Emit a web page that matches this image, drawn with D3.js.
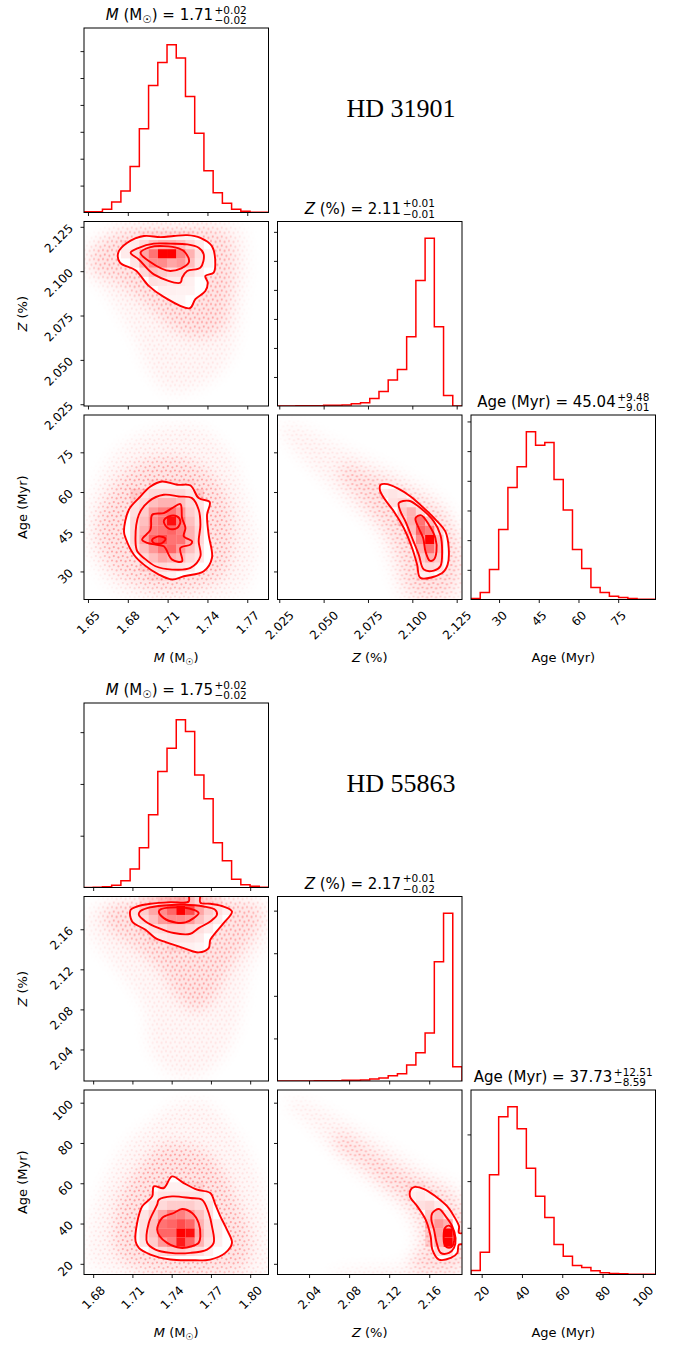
<!DOCTYPE html>
<html>
<head>
<meta charset="utf-8">
<script src="https://cdn.jsdelivr.net/npm/d3@7"></script>
<style>
  body { margin: 0; background: #fff; }
  text { font-family: "DejaVu Sans", sans-serif; fill: #000; }
</style>
</head>
<body>
<svg id="fig" width="673" height="1347"></svg>
<script>
// ================= HD 31901 =================
const massRangeA = [1.647, 1.786];
const metalRangeA = [2.024, 2.128];
const ageRangeA = [19.4, 89.1];
const massTicksA = [1.65, 1.68, 1.71, 1.74, 1.77];
const metalTicksA = [2.025, 2.05, 2.075, 2.1, 2.125];
const ageTicksA = [30, 45, 60, 75];

// 20-bin histograms (counts)
const massHistA = [12, 12, 62, 193, 398, 857, 1559, 2360, 2789, 3118, 2870, 2155, 1472, 776, 366, 174, 62, 25, 6, 6];
const metalHistA = [0, 0, 6, 12, 12, 23, 23, 35, 81, 116, 256, 500, 895, 1256, 2384, 4326, 5779, 2733, 360, 0];
const ageHistA = [17, 118, 506, 1180, 1888, 2236, 2826, 2601, 2646, 2022, 1506, 843, 522, 202, 118, 56, 34, 17, 6, 3];
const massCountTicksA = [500, 1000, 1500, 2000, 2500, 3000];
const metalCountTicksA = [1000, 2000, 3000, 4000, 5000, 6000];
const ageCountTicksA = [500, 1000, 1500, 2000, 2500, 3000];

// titles: median, +err, -err
const massTitleA = ['1.71', '+0.02', '\u22120.02'];
const metalTitleA = ['2.11', '+0.01', '\u22120.01'];
const ageTitleA = ['45.04', '+9.48', '\u22129.01'];

// 2D panels: density cells [xbin, ybin, relative density], contour lines, sample cloud outline
const massMetalCellsA = [
  [6,18,.05],[7,18,.05],[8,18,.05],[9,18,.05],[10,18,.05],[11,18,.05],
  [4,17,.06],[5,17,.08],[6,17,.15],[7,17,.25],[8,17,.3],[9,17,.3],[10,17,.25],[11,17,.15],[12,17,.08],
  [4,16,.08],[5,16,.15],[6,16,.35],[7,16,.55],[8,16,1],[9,16,1],[10,16,.5],[11,16,.3],[12,16,.12],[13,16,.05],
  [5,15,.1],[6,15,.3],[7,15,.45],[8,15,.45],[9,15,.35],[10,15,.4],[11,15,.25],[12,15,.1],[13,15,.05],
  [6,14,.15],[7,14,.25],[8,14,.2],[9,14,.15],[10,14,.15],[11,14,.12],[12,14,.06],
  [7,13,.12],[8,13,.1],[9,13,.08],[10,13,.08],[11,13,.06],
  [8,12,.06],[9,12,.06],[10,12,.05],[11,12,.05],
  [9,11,.04],[10,11,.04]
];
const massMetalContoursA = [
  [[1.6728,2.1104],[1.6741,2.1048],[1.6858,2.1005],[1.6958,2.0917],[1.7071,2.0855],[1.7267,2.0791],[1.7309,2.0842],[1.7384,2.0888],[1.7402,2.0935],[1.7384,2.0973],[1.7447,2.0992],[1.7459,2.1038],[1.7434,2.1141],[1.7347,2.1188],[1.7247,2.1203],[1.7146,2.1198],[1.7046,2.1192],[1.6921,2.1198],[1.6796,2.1160]],
  [[1.6821,2.1104],[1.6883,2.1066],[1.6996,2.0982],[1.7196,2.0935],[1.7209,2.0963],[1.7247,2.1001],[1.7347,2.1020],[1.7372,2.1095],[1.7334,2.1132],[1.7247,2.1151],[1.7121,2.1155],[1.6996,2.1155],[1.6883,2.1132]],
  [[1.6896,2.1104],[1.6958,2.1057],[1.7121,2.1001],[1.7259,2.1048],[1.7234,2.1104],[1.7184,2.1128],[1.7071,2.1141],[1.6971,2.1136]]
];
const massMetalCoreA = [[1.6520,2.1095],[1.6620,2.1170],[1.6796,2.1226],[1.7096,2.1245],[1.7472,2.1235],[1.7572,2.1170],[1.7597,2.1038],[1.7572,2.0851],[1.7522,2.0682],[1.7372,2.0626],[1.7171,2.0664],[1.6971,2.0795],[1.6721,2.0945],[1.6545,2.1001]];
const massMetalWideA = [[1.6495,2.1132],[1.6721,2.1254],[1.7222,2.1267],[1.7647,2.1245],[1.7697,2.1076],[1.7660,2.0795],[1.7585,2.0532],[1.7422,2.0382],[1.7121,2.0317],[1.6971,2.0420],[1.6846,2.0626],[1.6620,2.0888],[1.6495,2.1001]];

const massAgeCellsA = [
  [7,12,.06],[8,12,.06],[9,12,.06],[10,12,.06],[11,12,.06],
  [5,11,.1],[6,11,.1],[7,11,.15],[8,11,.15],[9,11,.15],[10,11,.15],[11,11,.1],[12,11,.1],
  [5,10,.1],[6,10,.15],[7,10,.25],[8,10,.3],[9,10,.3],[10,10,.25],[11,10,.15],[12,10,.1],
  [5,9,.12],[6,9,.2],[7,9,.4],[8,9,.5],[9,9,.55],[10,9,.4],[11,9,.2],[12,9,.12],
  [5,8,.15],[6,8,.25],[7,8,.45],[8,8,.55],[9,8,.95],[10,8,.5],[11,8,.25],[12,8,.12],
  [5,7,.15],[6,7,.3],[7,7,.5],[8,7,.55],[9,7,.6],[10,7,.5],[11,7,.3],[12,7,.15],
  [5,6,.15],[6,6,.35],[7,6,.6],[8,6,.7],[9,6,.55],[10,6,.55],[11,6,.3],[12,6,.15],
  [5,5,.12],[6,5,.25],[7,5,.4],[8,5,.55],[9,5,.6],[10,5,.4],[11,5,.25],[12,5,.12],
  [6,4,.15],[7,4,.25],[8,4,.35],[9,4,.3],[10,4,.25],[11,4,.15],[12,4,.1],
  [6,3,.08],[7,3,.12],[8,3,.15],[9,3,.12],[10,3,.1],[11,3,.08],
  [7,2,.05],[8,2,.06],[9,2,.05]
];
const massAgeContoursA = [
  [[1.6771,45.14],[1.6808,53.31],[1.6883,57.70],[1.6971,62.10],[1.7059,63.98],[1.7171,62.73],[1.7272,62.47],[1.7334,57.70],[1.7417,56.20],[1.7397,51.42],[1.7409,43.89],[1.7434,35.10],[1.7372,30.07],[1.7222,28.19],[1.7134,26.93],[1.7034,28.82],[1.6921,32.58],[1.6846,36.33],[1.6783,42.63]],
  [[1.6858,41.38],[1.6883,51.42],[1.6958,56.45],[1.7071,58.96],[1.7184,58.33],[1.7284,57.70],[1.7334,53.31],[1.7347,47.66],[1.7334,41.38],[1.7347,35.72],[1.7272,31.33],[1.7134,30.70],[1.7009,31.96],[1.6921,35.10],[1.6871,37.61]],
  [[1.6908,42.00],[1.6971,45.77],[1.6984,51.42],[1.7071,52.05],[1.7134,53.93],[1.7196,55.44],[1.7209,50.17],[1.7234,46.40],[1.7222,43.26],[1.7284,41.38],[1.7272,40.12],[1.7196,38.86],[1.7209,33.84],[1.7134,34.47],[1.7071,39.49],[1.7009,40.12],[1.6946,40.75]],
  [[1.7071,48.91],[1.7109,50.80],[1.7171,50.80],[1.7196,48.91],[1.7171,46.40],[1.7109,46.15]],
  [[1.6984,42.00],[1.7034,43.26],[1.7084,42.38],[1.7059,40.75],[1.6996,40.75]]
];
const massAgeCoreA = [[1.6570,46.40],[1.6645,57.70],[1.6796,67.75],[1.7021,72.77],[1.7272,71.52],[1.7472,63.98],[1.7572,52.68],[1.7585,38.86],[1.7522,28.82],[1.7322,23.79],[1.7071,22.54],[1.6821,26.31],[1.6645,33.84]];
const massAgeWideA = [[1.6495,47.66],[1.6570,63.98],[1.6771,77.80],[1.7071,84.08],[1.7347,84.08],[1.7572,74.03],[1.7697,56.45],[1.7773,38.86],[1.7672,23.79],[1.7347,19.77],[1.6971,19.77],[1.6696,23.79],[1.6520,35.10]];

const metalAgeCellsA = [
  [11,11,.08],[12,11,.1],[13,11,.08],
  [12,10,.12],[13,10,.15],[14,10,.1],
  [13,9,.2],[14,9,.3],[15,9,.15],
  [13,8,.15],[14,8,.3],[15,8,.55],[16,8,.25],
  [14,7,.25],[15,7,.6],[16,7,.5],[17,7,.15],
  [14,6,.15],[15,6,.45],[16,6,1],[17,6,.25],
  [15,5,.3],[16,5,.55],[17,5,.25],
  [15,4,.2],[16,4,.3],[17,4,.2],
  [15,3,.12],[16,3,.15],[17,3,.12],
  [15,2,.05],[16,2,.06]
];
const metalAgeContoursA = [
  [[2.0821,62.73],[2.0858,62.98],[2.0915,61.47],[2.0990,58.33],[2.1065,53.93],[2.1140,48.91],[2.1186,45.14],[2.1205,38.86],[2.1199,32.58],[2.1168,29.44],[2.1046,27.56],[2.1027,32.58],[2.0999,38.86],[2.0952,46.40],[2.0896,52.68],[2.0840,57.70],[2.0817,60.84]],
  [[2.0924,55.82],[2.0980,56.70],[2.1046,53.93],[2.1121,48.91],[2.1158,43.89],[2.1168,37.61],[2.1158,31.96],[2.1121,30.32],[2.1065,30.70],[2.1036,36.35],[2.0999,42.63],[2.0961,48.91],[2.0933,52.68]],
  [[2.1018,50.17],[2.1050,51.17],[2.1093,47.66],[2.1130,42.63],[2.1136,37.61],[2.1121,34.47],[2.1098,34.09],[2.1074,37.61],[2.1061,42.63],[2.1036,46.40]]
];
const metalAgeCoreA = [[2.0615,70.26],[2.0746,67.12],[2.0877,63.98],[2.1046,57.70],[2.1177,51.42],[2.1252,41.38],[2.1261,30.07],[2.1214,22.54],[2.1046,20.66],[2.0952,26.31],[2.0933,33.84],[2.0858,45.14],[2.0765,52.68],[2.0671,60.21],[2.0596,65.24]];
const metalAgeWideA = [[2.0259,85.33],[2.0390,84.08],[2.0540,79.05],[2.0708,74.03],[2.0952,66.49],[2.1177,56.45],[2.1274,43.89],[2.1274,19.77],[2.0952,19.77],[2.0877,30.07],[2.0802,43.89],[2.0615,56.45],[2.0427,69.01],[2.0296,79.05]];

// ================= HD 55863 =================
const massRangeB = [1.673, 1.814];
const metalRangeB = [2.0085, 2.1927];
const ageRangeB = [14.7, 106.3];
const massTicksB = [1.68, 1.71, 1.74, 1.77, 1.80];
const metalTicksB = [2.04, 2.08, 2.12, 2.16];
const ageTicksB = [20, 40, 60, 80, 100];

const massHistB = [0, 6, 13, 45, 129, 355, 768, 1406, 2239, 2690, 3239, 3013, 2174, 1716, 865, 516, 161, 52, 26, 6];
const metalHistB = [0, 0, 0, 0, 4, 8, 8, 16, 16, 23, 47, 70, 125, 172, 375, 664, 1125, 2797, 3938, 336];
const ageHistB = [43, 239, 1068, 1689, 1796, 1561, 1139, 839, 611, 321, 196, 96, 75, 39, 18, 11, 7, 4, 4, 4];
const massCountTicksB = [1000, 2000, 3000];
const metalCountTicksB = [1000, 2000, 3000, 4000];
const ageCountTicksB = [500, 1000, 1500];

const massTitleB = ['1.75', '+0.02', '\u22120.02'];
const metalTitleB = ['2.17', '+0.01', '\u22120.02'];
const ageTitleB = ['37.73', '+12.51', '\u22128.59'];

const massMetalCellsB = [
  [6,19,.08],[7,19,.12],[8,19,.2],[9,19,.25],[10,19,.3],[11,19,.25],[12,19,.15],[13,19,.1],[14,19,.06],
  [5,18,.1],[6,18,.2],[7,18,.35],[8,18,.45],[9,18,.6],[10,18,1],[11,18,.7],[12,18,.35],[13,18,.2],[14,18,.12],[15,18,.06],
  [5,17,.08],[6,17,.15],[7,17,.25],[8,17,.4],[9,17,.45],[10,17,.45],[11,17,.4],[12,17,.25],[13,17,.15],[14,17,.08],
  [6,16,.08],[7,16,.12],[8,16,.15],[9,16,.2],[10,16,.2],[11,16,.15],[12,16,.12],[13,16,.08],
  [7,15,.06],[8,15,.08],[9,15,.1],[10,15,.1],[11,15,.1],[12,15,.08],
  [9,14,.05],[10,14,.06],[11,14,.06],[12,14,.04]
];
const massMetalContoursB = [
  [[1.7086,2.1794],[1.7098,2.1678],[1.7200,2.1595],[1.7276,2.1512],[1.7340,2.1478],[1.7492,2.1412],[1.7606,2.1369],[1.7683,2.1412],[1.7695,2.1495],[1.7733,2.1562],[1.7797,2.1661],[1.7861,2.1777],[1.7797,2.1827],[1.7695,2.1854],[1.7619,2.1867],[1.7619,2.1993],[1.7530,2.1993],[1.7530,2.1877],[1.7391,2.1871],[1.7238,2.1854],[1.7136,2.1827]],
  [[1.7149,2.1744],[1.7200,2.1678],[1.7302,2.1611],[1.7416,2.1562],[1.7543,2.1555],[1.7606,2.1611],[1.7695,2.1678],[1.7746,2.1744],[1.7733,2.1794],[1.7645,2.1827],[1.7492,2.1844],[1.7340,2.1837],[1.7213,2.1811],[1.7157,2.1777]],
  [[1.7302,2.1777],[1.7340,2.1711],[1.7429,2.1668],[1.7505,2.1668],[1.7568,2.1711],[1.7606,2.1761],[1.7568,2.1794],[1.7492,2.1817],[1.7391,2.1817],[1.7319,2.1801]]
];
const massMetalCoreB = [[1.6882,2.1761],[1.6984,2.1844],[1.7238,2.1894],[1.7568,2.1910],[1.7949,2.1877],[1.8076,2.1794],[1.8051,2.1595],[1.7899,2.1329],[1.7797,2.1096],[1.7695,2.0864],[1.7568,2.0797],[1.7441,2.0930],[1.7314,2.1196],[1.7111,2.1429],[1.6933,2.1595]];
const massMetalWideB = [[1.6755,2.1728],[1.6882,2.1877],[1.7238,2.1917],[1.7746,2.1917],[1.8132,2.1861],[1.8132,2.1528],[1.8000,2.1196],[1.7899,2.0598],[1.7797,2.0332],[1.7594,2.0133],[1.7391,2.0166],[1.7238,2.0399],[1.7187,2.0831],[1.6984,2.1196],[1.6781,2.1528]];

const massAgeCellsB = [
  [8,9,.06],[9,9,.06],[10,9,.06],[11,9,.06],[12,9,.06],
  [7,8,.06],[8,8,.1],[9,8,.1],[10,8,.1],[11,8,.1],[12,8,.1],[13,8,.06],
  [7,7,.1],[8,7,.15],[9,7,.2],[10,7,.2],[11,7,.2],[12,7,.15],[13,7,.1],
  [6,6,.1],[7,6,.2],[8,6,.35],[9,6,.5],[10,6,.5],[11,6,.4],[12,6,.25],[13,6,.12],
  [6,5,.12],[7,5,.25],[8,5,.55],[9,5,.6],[10,5,.7],[11,5,.6],[12,5,.3],[13,5,.15],[14,5,.08],
  [6,4,.12],[7,4,.25],[8,4,.6],[9,4,.6],[10,4,1],[11,4,.95],[12,4,.35],[13,4,.15],[14,4,.08],
  [6,3,.1],[7,3,.2],[8,3,.4],[9,3,.5],[10,3,.9],[11,3,.6],[12,3,.3],[13,3,.12],[14,3,.06],
  [7,2,.1],[8,2,.15],[9,2,.2],[10,2,.2],[11,2,.15],[12,2,.12],[13,2,.06]
];
const massAgeContoursB = [
  [[1.7124,31.20],[1.7136,40.28],[1.7175,48.53],[1.7251,53.48],[1.7264,58.44],[1.7340,57.61],[1.7403,63.39],[1.7492,60.09],[1.7594,56.79],[1.7695,55.13],[1.7734,49.36],[1.7772,43.58],[1.7822,36.98],[1.7861,30.38],[1.7810,25.43],[1.7695,22.12],[1.7543,21.79],[1.7391,22.12],[1.7238,24.60],[1.7149,27.90]],
  [[1.7213,30.38],[1.7225,40.28],[1.7289,49.36],[1.7302,51.83],[1.7403,53.48],[1.7543,52.66],[1.7632,51.83],[1.7683,45.23],[1.7708,38.63],[1.7721,30.38],[1.7670,27.08],[1.7543,25.43],[1.7391,25.43],[1.7276,27.08]],
  [[1.7289,36.98],[1.7327,42.76],[1.7416,45.23],[1.7479,47.21],[1.7556,45.23],[1.7606,40.28],[1.7619,33.68],[1.7606,30.38],[1.7556,28.73],[1.7467,27.90],[1.7365,30.38],[1.7309,33.68]]
];
const massAgeCoreB = [[1.6959,36.98],[1.7009,53.48],[1.7162,68.34],[1.7314,78.24],[1.7492,79.07],[1.7695,73.29],[1.7822,61.74],[1.7924,46.88],[1.8000,32.03],[1.7949,18.82],[1.7695,15.52],[1.7365,15.52],[1.7111,18.82],[1.6984,25.43]];
const massAgeWideB = [[1.6781,40.28],[1.6882,60.09],[1.7060,79.89],[1.7264,91.45],[1.7441,99.70],[1.7670,99.70],[1.7848,88.14],[1.8051,65.04],[1.8132,36.98],[1.8132,15.19],[1.6984,15.19],[1.6781,20.47]];

const metalAgeCellsB = [
  [14,9,.04],[15,9,.05],
  [14,8,.06],[15,8,.08],[16,8,.05],
  [15,7,.12],[16,7,.15],[17,7,.08],
  [16,6,.2],[17,6,.25],[18,6,.1],
  [16,5,.25],[17,5,.4],[18,5,.3],
  [16,4,.15],[17,4,.35],[18,4,1],
  [16,3,.12],[17,3,.3],[18,3,1],
  [17,2,.15],[18,2,.12]
];
const metalAgeContoursB = [
  [[2.1415,56.79],[2.1448,58.11],[2.1548,57.12],[2.1664,53.48],[2.1780,48.53],[2.1847,43.58],[2.1897,38.63],[2.1897,35.33],[2.1996,35.33],[2.1996,29.55],[2.1897,29.55],[2.1880,25.43],[2.1814,22.95],[2.1697,22.12],[2.1631,27.08],[2.1614,33.68],[2.1564,41.93],[2.1481,48.53],[2.1408,53.48]],
  [[2.1631,45.23],[2.1697,47.21],[2.1764,43.58],[2.1830,38.63],[2.1863,32.85],[2.1847,27.90],[2.1797,25.43],[2.1714,25.43],[2.1674,30.38],[2.1647,36.98],[2.1621,41.93]],
  [[2.1757,37.80],[2.1797,38.96],[2.1837,36.98],[2.1840,29.55],[2.1797,27.90],[2.1754,29.55]]
];
const metalAgeCoreB = [[2.0683,84.84],[2.0949,78.24],[2.1248,68.34],[2.1514,61.74],[2.1747,56.79],[2.1920,45.23],[2.1920,18.82],[2.1581,16.35],[2.1415,18.82],[2.1548,28.73],[2.1514,40.28],[2.1381,50.18],[2.1182,58.44],[2.0916,69.99],[2.0683,78.24]];
const metalAgeWideB = [[2.0218,101.35],[2.0484,98.05],[2.0850,88.14],[2.1248,76.59],[2.1681,63.39],[2.1920,56.79],[2.1920,15.19],[2.0584,15.19],[2.0916,18.00],[2.1348,20.47],[2.1448,33.68],[2.1348,45.23],[2.1082,56.79],[2.0683,73.29],[2.0351,91.45],[2.0185,98.05]];

// ---------------- layout ----------------
const svg = d3.select('#fig');
const size = 184.5;
const colX = [84, 277.5, 471];
const rowY = [28, 221.5, 415];
const red = '#ff0000';
const defs = svg.append('defs');

// speckle texture used for the cloud of posterior samples
const speck = defs.append('pattern').attr('id', 'speck')
  .attr('patternUnits', 'userSpaceOnUse').attr('width', 9).attr('height', 9);
[[1, 1.5], [5.6, 2.4], [2.8, 6.1], [7.4, 7.3]].forEach(p =>
  speck.append('circle').attr('cx', p[0]).attr('cy', p[1]).attr('r', 1.1)
    .attr('fill', red).attr('fill-opacity', 0.3));
defs.append('filter').attr('id', 'soft')
  .attr('x', '-30%').attr('y', '-30%').attr('width', '160%').attr('height', '160%')
  .append('feGaussianBlur').attr('stdDeviation', 7);

let uid = 0;

function panel(top, r, c) {
  const g = svg.append('g').attr('transform', `translate(${colX[c]},${top + rowY[r]})`);
  const id = 'clip' + (uid++);
  defs.append('clipPath').attr('id', id).append('rect').attr('width', size).attr('height', size);
  const inner = g.append('g').attr('clip-path', `url(#${id})`);
  return { g, inner };
}

function frame(g) {
  g.append('rect').attr('width', size).attr('height', size)
    .attr('fill', 'none').attr('stroke', '#000').attr('stroke-width', 1);
}

function xAxis(g, x, ticks, fmt) {
  const ax = g.append('g').attr('transform', `translate(0,${size})`)
    .call(d3.axisBottom(x).tickValues(ticks).tickSize(3.5).tickFormat(fmt ? d3.format(fmt) : ''));
  ax.attr('font-size', 12).attr('font-family', 'DejaVu Sans');
  ax.select('.domain').remove();
  ax.selectAll('line').attr('stroke-width', 0.9);
  if (fmt) {
    ax.selectAll('text')
      .attr('font-size', 12).attr('fill', '#000')
      .attr('y', 0).attr('dy', null).attr('text-anchor', 'middle').attr('dominant-baseline', 'central')
      .attr('transform', function () {
        const w = this.getComputedTextLength();
        return `translate(0,${10.5 + (w + 9) * 0.354}) rotate(-45)`;
      });
  }
}

function yAxis(g, y, ticks, fmt) {
  const ax = g.append('g')
    .call(d3.axisLeft(y).tickValues(ticks).tickSize(3.5).tickFormat(fmt ? d3.format(fmt) : ''));
  ax.attr('font-size', 12).attr('font-family', 'DejaVu Sans');
  ax.select('.domain').remove();
  ax.selectAll('line').attr('stroke-width', 0.9);
  if (fmt) {
    ax.selectAll('text')
      .attr('font-size', 12).attr('fill', '#000')
      .attr('x', 0).attr('dy', null).attr('text-anchor', 'end').attr('dominant-baseline', 'central')
      .attr('transform', 'translate(-13,-1) rotate(-45)');
  }
}

function drawHist(inner, x, counts, range) {
  const y = d3.scaleLinear().domain([0, d3.max(counts) * 1.1]).range([size, 0]);
  const bw = (range[1] - range[0]) / counts.length;
  const pts = [[range[0], 0]];
  counts.forEach((c, i) => pts.push([range[0] + i * bw, c], [range[0] + (i + 1) * bw, c]));
  pts.push([range[1], 0]);
  inner.append('path')
    .attr('d', d3.line().x(d => x(d[0])).y(d => y(d[1]))(pts))
    .attr('fill', 'none').attr('stroke', red).attr('stroke-width', 1.5);
  return y;
}

function drawDensity(inner, x, y, xr, yr, cells, contours, core, wide) {
  const shape = d3.line().x(d => x(d[0])).y(d => y(d[1])).curve(d3.curveCatmullRomClosed.alpha(0.5));
  // cloud of samples outside the contours
  const id = 'cloud' + (uid++);
  const m = defs.append('mask').attr('id', id).attr('maskUnits', 'userSpaceOnUse')
    .attr('x', -40).attr('y', -40).attr('width', size + 80).attr('height', size + 80);
  const mg = m.append('g').attr('filter', 'url(#soft)');
  mg.append('path').attr('d', shape(wide)).attr('fill', '#fff').attr('fill-opacity', 0.3);
  mg.append('path').attr('d', shape(core)).attr('fill', '#fff');
  const cloud = inner.append('g').attr('mask', `url(#${id})`);
  cloud.append('rect').attr('x', -20).attr('y', -20).attr('width', size + 40).attr('height', size + 40)
    .attr('fill', red).attr('fill-opacity', 0.1);
  cloud.append('rect').attr('x', -20).attr('y', -20).attr('width', size + 40).attr('height', size + 40)
    .attr('fill', 'url(#speck)');
  // blank the inside of the outer contour
  inner.append('path').attr('d', shape(contours[0])).attr('fill', '#fff');
  // 20x20 density histogram
  const bw = (xr[1] - xr[0]) / 20, bh = (yr[1] - yr[0]) / 20;
  inner.selectAll(null).data(cells).enter().append('rect')
    .attr('x', d => x(xr[0] + d[0] * bw))
    .attr('y', d => y(yr[0] + (d[1] + 1) * bh))
    .attr('width', d => x(xr[0] + (d[0] + 1) * bw) - x(xr[0] + d[0] * bw))
    .attr('height', d => y(yr[0] + d[1] * bh) - y(yr[0] + (d[1] + 1) * bh))
    .attr('fill', red).attr('fill-opacity', d => d[2]);
  inner.selectAll(null).data(contours).enter().append('path')
    .attr('d', shape).attr('fill', 'none').attr('stroke', red).attr('stroke-width', 1.9);
}

// text with italic / subscript parts, optional stacked +/- errors
function richText(g, parts, fontSize) {
  const t = g.append('text').attr('font-size', fontSize);
  let shift = 0;
  parts.forEach(p => {
    const s = t.append('tspan').text(p[0]);
    const want = p[1] === 'sub' ? fontSize * 0.22 : 0;
    if (p[1] === 'italic') s.attr('font-style', 'italic');
    if (p[1] === 'sub') s.attr('font-size', fontSize * 0.7);
    if (want !== shift) s.attr('dy', want - shift);
    shift = want;
  });
  return t;
}

function drawTitle(cx, base, parts, vals) {
  const g = svg.append('g');
  const t = richText(g, parts.concat([[' = ' + vals[0], '']]), 15);
  const L = t.node().getComputedTextLength();
  const sup = g.append('text').attr('x', L + 1.5).attr('y', -6.5).attr('font-size', 10.5).text(vals[1]);
  const sub = g.append('text').attr('x', L + 1.5).attr('y', 4).attr('font-size', 10.5).text(vals[2]);
  const W = L + 1.5 + Math.max(sup.node().getComputedTextLength(), sub.node().getComputedTextLength());
  g.attr('transform', `translate(${cx - W / 2},${base})`);
}

function drawLabel(x, y, parts, rotate) {
  const g = svg.append('g');
  const t = richText(g, parts, 13);
  const L = t.node().getComputedTextLength();
  t.attr('x', -L / 2);
  g.attr('transform', `translate(${x},${y})` + (rotate ? ' rotate(-90)' : ''));
}

const massLabel = [['M', 'italic'], [' (M', ''], ['\u2609', 'sub'], [')', '']];
const metalLabel = [['Z', 'italic'], [' (%)', '']];
const ageLabel = [['Age (Myr)', '']];

const stars = [
  {
    name: 'HD 31901', top: 0,
    ranges: [massRangeA, metalRangeA, ageRangeA],
    ticks: [massTicksA, metalTicksA, ageTicksA],
    fmts: ['.2f', '.3f', 'd'],
    hists: [massHistA, metalHistA, ageHistA],
    countTicks: [massCountTicksA, metalCountTicksA, ageCountTicksA],
    titles: [massTitleA, metalTitleA, ageTitleA],
    pairs: {
      '1-0': [massMetalCellsA, massMetalContoursA, massMetalCoreA, massMetalWideA],
      '2-0': [massAgeCellsA, massAgeContoursA, massAgeCoreA, massAgeWideA],
      '2-1': [metalAgeCellsA, metalAgeContoursA, metalAgeCoreA, metalAgeWideA]
    }
  },
  {
    name: 'HD 55863', top: 675,
    ranges: [massRangeB, metalRangeB, ageRangeB],
    ticks: [massTicksB, metalTicksB, ageTicksB],
    fmts: ['.2f', '.2f', 'd'],
    hists: [massHistB, metalHistB, ageHistB],
    countTicks: [massCountTicksB, metalCountTicksB, ageCountTicksB],
    titles: [massTitleB, metalTitleB, ageTitleB],
    pairs: {
      '1-0': [massMetalCellsB, massMetalContoursB, massMetalCoreB, massMetalWideB],
      '2-0': [massAgeCellsB, massAgeContoursB, massAgeCoreB, massAgeWideB],
      '2-1': [metalAgeCellsB, metalAgeContoursB, metalAgeCoreB, metalAgeWideB]
    }
  }
];
const labels = [massLabel, metalLabel, ageLabel];

stars.forEach(s => {
  const scalesX = s.ranges.map(r => d3.scaleLinear().domain(r).range([0, size]));
  const scalesY = s.ranges.map(r => d3.scaleLinear().domain(r).range([size, 0]));
  for (let r = 0; r < 3; r++) {
    for (let c = 0; c <= r; c++) {
      const { g, inner } = panel(s.top, r, c);
      const x = scalesX[c];
      if (r === c) {
        const y = drawHist(inner, x, s.hists[c], s.ranges[c]);
        yAxis(g, y, s.countTicks[c], null);
        drawTitle(colX[c] + size / 2, s.top + rowY[r] - 8, labels[c], s.titles[c]);
      } else {
        const y = scalesY[r];
        const p = s.pairs[r + '-' + c];
        drawDensity(inner, x, y, s.ranges[c], s.ranges[r], p[0], p[1], p[2], p[3]);
        yAxis(g, y, s.ticks[r], c === 0 ? s.fmts[r] : null);
      }
      xAxis(g, x, s.ticks[c], r === 2 ? s.fmts[c] : null);
      frame(g);
    }
  }
  // axis labels
  drawLabel(27, s.top + rowY[1] + size / 2, metalLabel, true);
  drawLabel(27, s.top + rowY[2] + size / 2, ageLabel, true);
  labels.forEach((l, c) => drawLabel(colX[c] + size / 2, s.top + 662, l, false));
  // star name
  svg.append('text').attr('x', 401).attr('y', s.top + 117).attr('text-anchor', 'middle')
    .attr('font-size', 26).style('font-family', '"Liberation Serif", serif')
    .text(s.name);
});
</script>
</body>
</html>
